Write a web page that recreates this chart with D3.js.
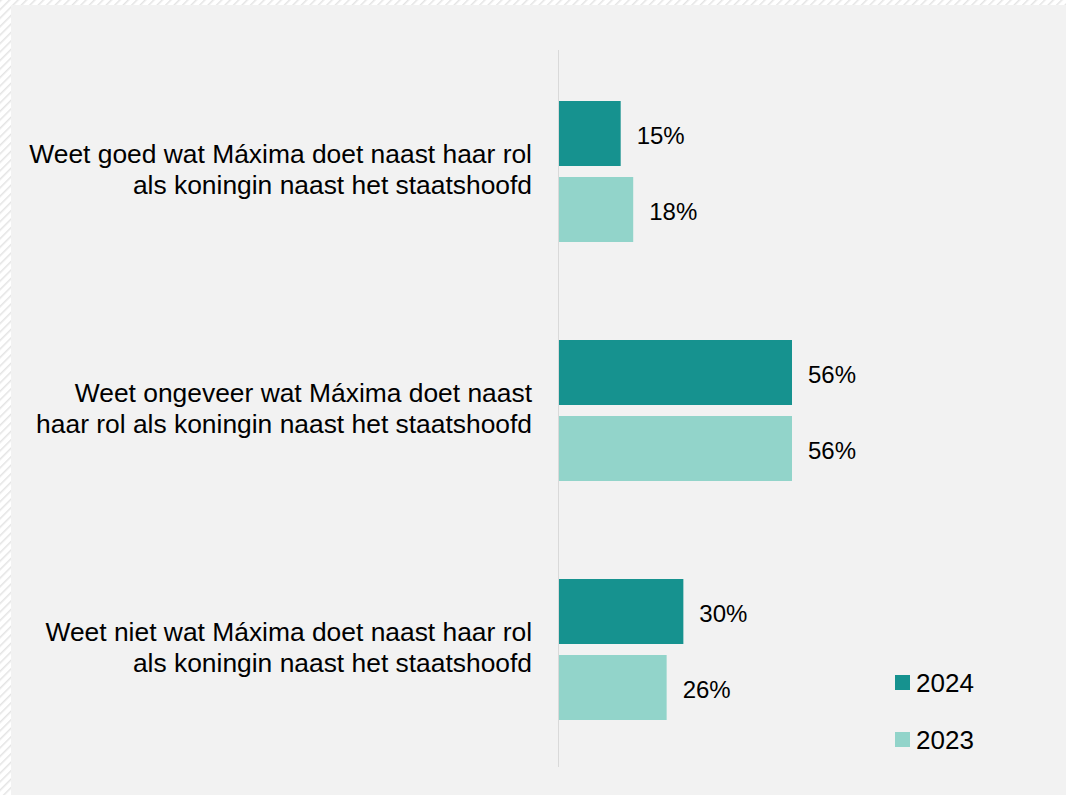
<!DOCTYPE html>
<html>
<head>
<meta charset="utf-8">
<script src="https://cdnjs.cloudflare.com/ajax/libs/d3/7.8.5/d3.min.js"></script>
<style>
  body { margin: 0; background: #fff; }
  svg { display: block; font-family: Arial, "Liberation Sans", sans-serif; }
</style>
</head>
<body>
<script>
// The data.

var categories = [
  ['Weet goed wat Máxima doet naast haar rol', 'als koningin naast het staatshoofd'],
  ['Weet ongeveer wat Máxima doet naast', 'haar rol als koningin naast het staatshoofd'],
  ['Weet niet wat Máxima doet naast haar rol', 'als koningin naast het staatshoofd']
];

var years = ['2024', '2023'];

var values2024 = [15, 56, 30],
    values2023 = [18, 56, 26];

var colors = ['#16928f', '#92d4ca'];

var width = 1066,
    height = 795;

var svg = d3.select('body')
  .append('svg')
  .attr('width', width)
  .attr('height', height);

// Hatched strip round the top and left of the panel.

var pattern = svg.append('defs').append('pattern')
  .attr('id', 'hatch')
  .attr('width', 6)
  .attr('height', 6)
  .attr('patternUnits', 'userSpaceOnUse')
  .attr('patternTransform', 'rotate(45)');

pattern.append('rect')
  .attr('width', 6)
  .attr('height', 6)
  .attr('fill', '#fff');

pattern.append('line')
  .attr('x1', 0).attr('y1', 0)
  .attr('x2', 0).attr('y2', 6)
  .attr('stroke', '#e4e4e4')
  .attr('stroke-width', 3);

svg.append('rect')
  .attr('width', width)
  .attr('height', height)
  .attr('fill', 'url(#hatch)');

svg.append('rect')
  .attr('x', 11)
  .attr('y', 5)
  .attr('width', width - 11)
  .attr('height', height - 5)
  .attr('fill', '#f2f2f2');

// Scales: the groups down, the years inside each group, values across.

var x = d3.scaleLinear()
  .domain([0, 56])
  .range([558, 792]);

var y = d3.scaleBand()
  .domain(d3.range(categories.length))
  .range([50, 767]);

var y1 = d3.scaleBand()
  .domain(years)
  .range([51, 192])
  .paddingInner(0.1447);

var rows = [];
categories.forEach(function(c, i) {
  rows.push({ group: i, year: '2024', value: values2024[i] });
  rows.push({ group: i, year: '2023', value: values2023[i] });
});

// Axis line.

svg.append('line')
  .attr('x1', x(0) + 0.5)
  .attr('x2', x(0) + 0.5)
  .attr('y1', y.range()[0])
  .attr('y2', y.range()[1])
  .attr('stroke', '#d9d9d9')
  .attr('stroke-width', 1);

svg.selectAll('rect.bar')
  .data(rows)
  .enter().append('rect')
  .attr('class', 'bar')
  .attr('x', x(0) + 1)
  .attr('y', function(d) { return y(d.group) + y1(d.year); })
  .attr('width', function(d) { return x(d.value) - x(0) - 1; })
  .attr('height', y1.bandwidth())
  .attr('fill', function(d) { return colors[years.indexOf(d.year)]; });

svg.selectAll('text.value')
  .data(rows)
  .enter().append('text')
  .attr('class', 'value')
  .attr('x', function(d) { return x(d.value) + 16; })
  .attr('y', function(d) { return y(d.group) + y1(d.year) + y1.bandwidth() / 2 + 2; })
  .attr('dy', '0.35em')
  .attr('font-size', 24)
  .attr('fill', '#000')
  .text(function(d) { return d.value + '%'; });

// Category labels, two lines each, right aligned against the axis.

var labels = svg.selectAll('text.cat')
  .data(categories)
  .enter().append('text')
  .attr('class', 'cat')
  .attr('text-anchor', 'end')
  .attr('font-size', 26.4)
  .attr('fill', '#000');

labels.selectAll('tspan')
  .data(function(d, i) { return d.map(function(line, j) { return { line: line, j: j, i: i }; }); })
  .enter().append('tspan')
  .attr('x', 532)
  .attr('y', function(d) {
    var c = y(d.i) + 51 + 141 / 2;
    return c - 9 + d.j * 31;
  })
  .text(function(d) { return d.line; });

// Legend.

var legend = svg.selectAll('g.legend')
  .data(years)
  .enter().append('g')
  .attr('class', 'legend')
  .attr('transform', function(d, i) { return 'translate(895,' + (675 + i * 57) + ')'; });

legend.append('rect')
  .attr('width', 15)
  .attr('height', 15)
  .attr('fill', function(d, i) { return colors[i]; });

legend.append('text')
  .attr('x', 21)
  .attr('y', 17)
  .attr('font-size', 26)
  .attr('fill', '#000')
  .text(function(d) { return d; });
</script>
</body>
</html>
